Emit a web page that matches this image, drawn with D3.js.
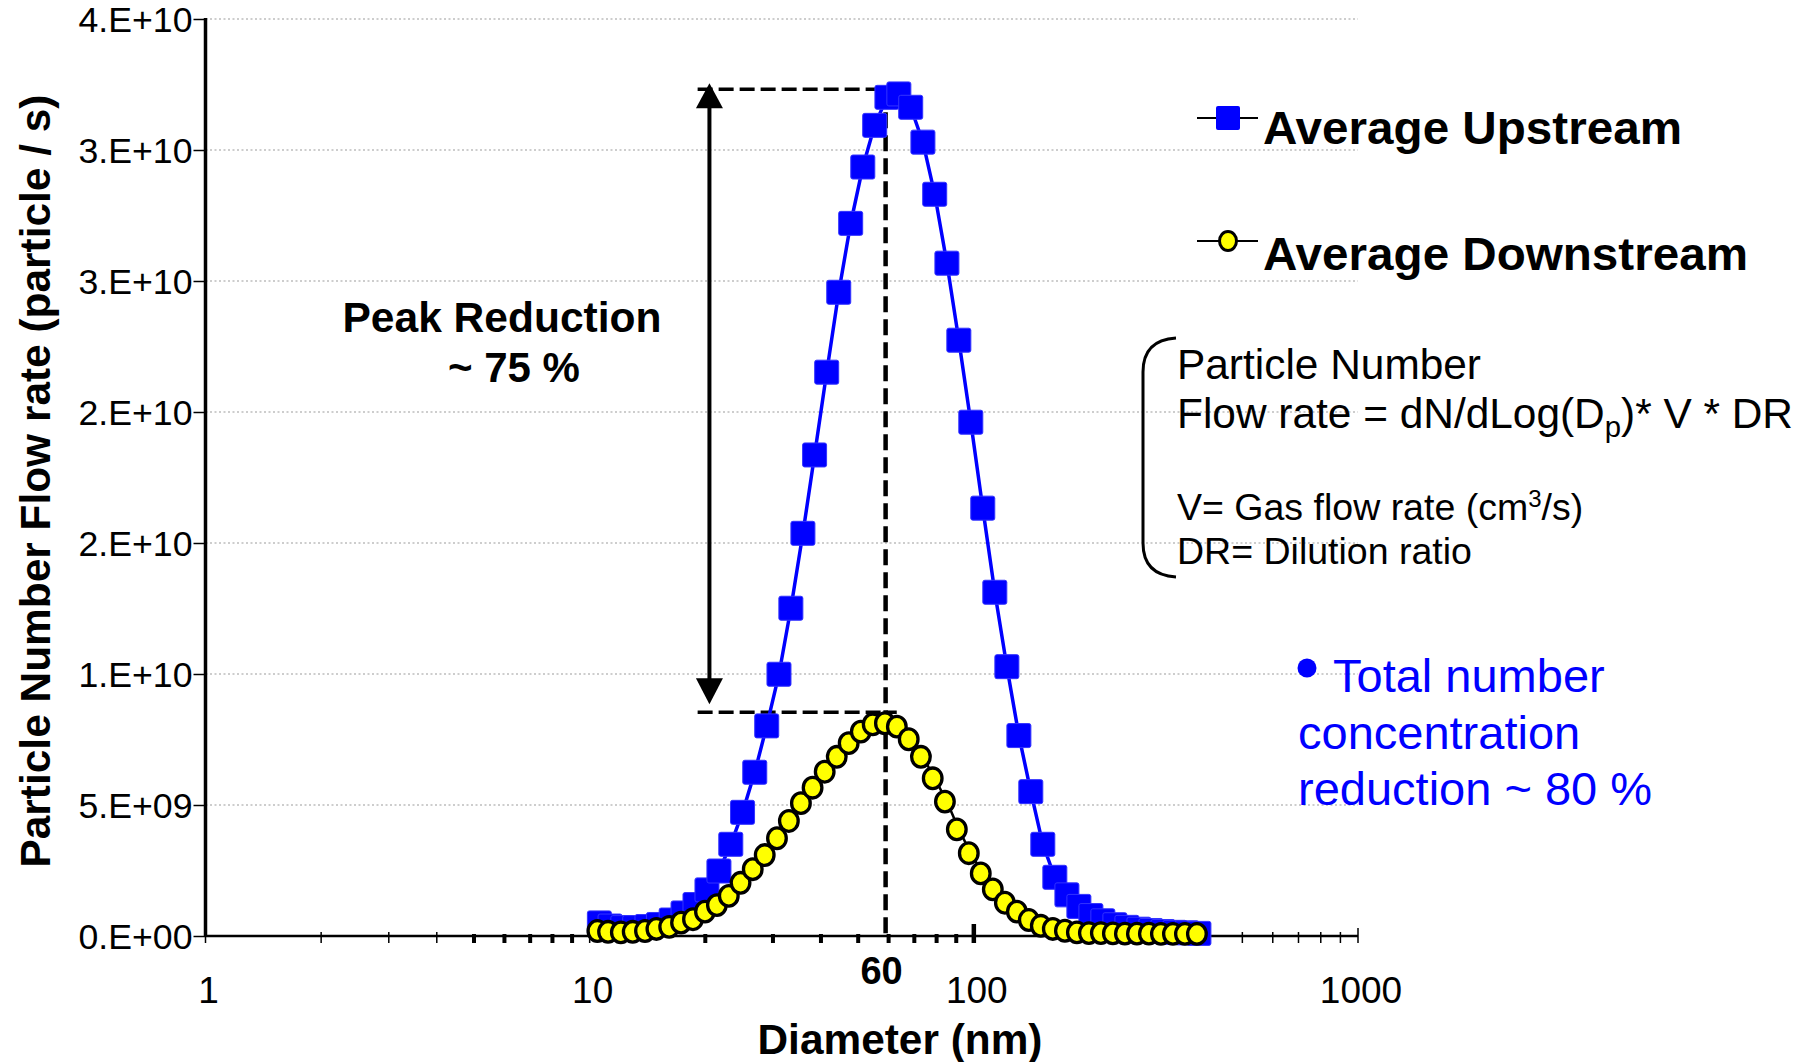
<!DOCTYPE html>
<html>
<head>
<meta charset="utf-8">
<script src="https://cdn.jsdelivr.net/npm/d3@7"></script>
<style>
  body { margin: 0; background: white; }
  text { font-family: "Liberation Sans", Arial, sans-serif; }
</style>
</head>
<body>
<svg id="chart"></svg>
<script>
// SMPS channels (nm), every other 64/decade channel
var diameters = [10.6, 11.3, 12.2, 13.1, 14.1, 15.1, 16.3, 17.5, 18.8, 20.2,
    21.7, 23.3, 25.0, 26.9, 28.9, 31.1, 33.4, 35.9, 38.5, 41.4,
    44.5, 47.8, 51.4, 55.2, 59.4, 63.8, 68.5, 73.7, 79.1, 85.1,
    91.4, 98.2, 105.5, 113.4, 121.9, 131.0, 140.7, 151.2, 162.5, 174.7,
    187.7, 201.7, 216.7, 232.9, 250.3, 269.0, 289.0, 310.6, 333.8, 358.7, 385.4];

var upstream = [0.50e9, 0.38e9, 0.32e9, 0.32e9, 0.36e9, 0.44e9, 0.61e9, 0.88e9, 1.20e9, 1.76e9,
    2.48e9, 3.50e9, 4.72e9, 6.25e9, 8.02e9, 9.99e9, 12.51e9, 15.37e9, 18.36e9, 21.52e9,
    24.57e9, 27.20e9, 29.35e9, 30.94e9, 32.01e9, 32.14e9, 31.63e9, 30.30e9, 28.31e9, 25.68e9,
    22.74e9, 19.61e9, 16.33e9, 13.12e9, 10.28e9, 7.65e9, 5.51e9, 3.50e9, 2.24e9, 1.57e9,
    1.13e9, 0.78e9, 0.58e9, 0.43e9, 0.33e9, 0.26e9, 0.21e9, 0.17e9, 0.14e9, 0.12e9, 0.10e9];

var downstream = [0.19e9, 0.16e9, 0.14e9, 0.16e9, 0.19e9, 0.27e9, 0.35e9, 0.51e9, 0.64e9, 0.93e9,
    1.18e9, 1.53e9, 2.03e9, 2.55e9, 3.09e9, 3.73e9, 4.39e9, 5.07e9, 5.66e9, 6.27e9,
    6.84e9, 7.36e9, 7.80e9, 8.08e9, 8.12e9, 7.99e9, 7.51e9, 6.84e9, 6.02e9, 5.13e9,
    4.07e9, 3.16e9, 2.39e9, 1.78e9, 1.27e9, 0.93e9, 0.61e9, 0.39e9, 0.27e9, 0.20e9,
    0.14e9, 0.11e9, 0.11e9, 0.10e9, 0.09e9, 0.09e9, 0.09e9, 0.08e9, 0.08e9, 0.08e9, 0.08e9];

var yTickValues = [0, 5e9, 10e9, 15e9, 20e9, 25e9, 30e9, 35e9];
var yTickLabels = ["0.E+00", "5.E+09", "1.E+10", "2.E+10", "2.E+10", "3.E+10", "3.E+10", "4.E+10"];
var xMajorTicks = [1, 10, 100, 1000];
var xMajorLabels = ["1", "10", "100", "1000"];
var xThinTicks = [2, 3, 4, 200, 300, 400, 500, 600, 700, 800, 900];
var xThickTicks = [5, 6, 7, 8, 9, 20, 30, 40, 50, 60, 70, 80, 90];

// annotation values
var peakUpLevel = 32.32e9, peakDownLevel = 8.54e9;
var markDiameter = 60, arrowDiameter = 20.5, dashStartDiameter = 19.1;
var topDashEnd = 64.4, bottomDashEnd = 63;

var width = 1811, height = 1062;
var svg = d3.select('#chart').attr('width', width).attr('height', height);

svg.append('rect').attr('width', width).attr('height', height).style('fill', 'white');

var x = d3.scaleLog().domain([1, 1000]).range([205.5, 1358]);
var y = d3.scaleLinear().domain([0, 35e9]).range([936, 19]);

// dotted gridlines
svg.append('g')
    .selectAll('line')
    .data(yTickValues.slice(1))
    .enter().append('line')
    .attr('x1', x(1)).attr('x2', x(1000))
    .attr('y1', function(d) { return y(d); })
    .attr('y2', function(d) { return y(d); })
    .attr('stroke', '#bdbdbd')
    .attr('stroke-width', 1.5)
    .attr('stroke-dasharray', '2,2.5');

// y axis
var yAxis = d3.axisLeft(y)
    .tickValues(yTickValues)
    .tickSize(12)
    .tickPadding(1)
    .tickFormat(function(d, i) { return yTickLabels[i]; });

var gy = svg.append('g')
    .attr('transform', 'translate(' + x(1) + ',0)')
    .call(yAxis);
gy.select('.domain').remove();
gy.selectAll('.tick line').attr('stroke', 'black').attr('stroke-width', 1.5);
gy.selectAll('.tick text')
    .attr('fill', 'black')
    .style('font-size', '35px')
    .attr('textLength', 114)
    .attr('lengthAdjust', 'spacingAndGlyphs')
    .attr('dy', '0.36em');

svg.append('line')
    .attr('x1', x(1)).attr('x2', x(1))
    .attr('y1', y(35e9) - 1).attr('y2', y(0) + 1)
    .attr('stroke', 'black').attr('stroke-width', 3.5);

// x axis
var gx = svg.append('g');
gx.append('line')
    .attr('x1', x(1)).attr('x2', x(1000))
    .attr('y1', y(0)).attr('y2', y(0))
    .attr('stroke', 'black').attr('stroke-width', 2.5);

gx.selectAll('.thin')
    .data(xThinTicks)
    .enter().append('line')
    .attr('x1', function(d) { return x(d); })
    .attr('x2', function(d) { return x(d); })
    .attr('y1', y(0) - 4).attr('y2', y(0) + 7)
    .attr('stroke', 'black').attr('stroke-width', 1.5);

gx.selectAll('.thick')
    .data(xThickTicks)
    .enter().append('line')
    .attr('x1', function(d) { return x(d); })
    .attr('x2', function(d) { return x(d); })
    .attr('y1', y(0) - 2).attr('y2', y(0) + 7)
    .attr('stroke', 'black').attr('stroke-width', 4);

gx.selectAll('.major')
    .data(xMajorTicks)
    .enter().append('line')
    .attr('x1', function(d) { return x(d); })
    .attr('x2', function(d) { return x(d); })
    .attr('y1', function(d) { return d == 100 ? y(0) - 12 : y(0) - 8; })
    .attr('y2', y(0) + 7)
    .attr('stroke', 'black')
    .attr('stroke-width', function(d) { return d == 100 ? 4.5 : 1.5; });

gx.selectAll('.label')
    .data(xMajorTicks)
    .enter().append('text')
    .attr('x', function(d) { return x(d) + 3; })
    .attr('y', 1003)
    .attr('text-anchor', 'middle')
    .style('font-size', '37px')
    .text(function(d, i) { return xMajorLabels[i]; });

svg.append('text')
    .attr('x', x(markDiameter) - 7)
    .attr('y', 984)
    .attr('text-anchor', 'middle')
    .style('font-size', '38px')
    .style('font-weight', 'bold')
    .text('60');

// axis titles
svg.append('text')
    .attr('x', 900)
    .attr('y', 1054)
    .attr('text-anchor', 'middle')
    .attr('textLength', 285)
    .attr('lengthAdjust', 'spacingAndGlyphs')
    .style('font-size', '42px')
    .style('font-weight', 'bold')
    .text('Diameter (nm)');

svg.append('text')
    .attr('transform', 'translate(50,481) rotate(-90)')
    .attr('text-anchor', 'middle')
    .attr('textLength', 773)
    .attr('lengthAdjust', 'spacingAndGlyphs')
    .style('font-size', '43px')
    .style('font-weight', 'bold')
    .text('Particle Number Flow rate (particle / s)');

// peak annotation
var ann = svg.append('g');
ann.append('line')
    .attr('x1', x(dashStartDiameter)).attr('x2', x(topDashEnd))
    .attr('y1', y(peakUpLevel)).attr('y2', y(peakUpLevel))
    .attr('stroke', 'black').attr('stroke-width', 3.5)
    .attr('stroke-dasharray', '15,6');
ann.append('line')
    .attr('x1', x(dashStartDiameter)).attr('x2', x(bottomDashEnd))
    .attr('y1', y(peakDownLevel)).attr('y2', y(peakDownLevel))
    .attr('stroke', 'black').attr('stroke-width', 3.5)
    .attr('stroke-dasharray', '15,6');
ann.append('line')
    .attr('x1', x(markDiameter) - 3).attr('x2', x(markDiameter) - 3)
    .attr('y1', y(peakUpLevel)).attr('y2', y(0))
    .attr('stroke', 'black').attr('stroke-width', 4.5)
    .attr('stroke-dasharray', '16,7');

var ax = x(arrowDiameter);
var yTop = y(peakUpLevel) - 6, yBot = y(peakDownLevel) - 8;
ann.append('line')
    .attr('x1', ax).attr('x2', ax)
    .attr('y1', yTop + 20).attr('y2', yBot - 20)
    .attr('stroke', 'black').attr('stroke-width', 4);
ann.append('path')
    .attr('d', 'M' + ax + ',' + yTop + 'L' + (ax - 13.5) + ',' + (yTop + 25) + 'L' + (ax + 13.5) + ',' + (yTop + 25) + 'Z')
    .attr('fill', 'black');
ann.append('path')
    .attr('d', 'M' + ax + ',' + yBot + 'L' + (ax - 13.5) + ',' + (yBot - 26) + 'L' + (ax + 13.5) + ',' + (yBot - 26) + 'Z')
    .attr('fill', 'black');

ann.append('text')
    .attr('x', 502).attr('y', 332)
    .attr('text-anchor', 'middle')
    .attr('textLength', 319)
    .attr('lengthAdjust', 'spacingAndGlyphs')
    .style('font-size', '42px').style('font-weight', 'bold')
    .text('Peak Reduction');
ann.append('text')
    .attr('x', 514).attr('y', 382)
    .attr('text-anchor', 'middle')
    .style('font-size', '42px').style('font-weight', 'bold')
    .text('~ 75 %');

// series
var upData = diameters.map(function(d, i) { return { d: d, v: upstream[i] }; });
var downData = diameters.map(function(d, i) { return { d: d, v: downstream[i] }; });

var line = d3.line()
    .x(function(p) { return x(p.d); })
    .y(function(p) { return y(p.v); });

svg.append('path')
    .datum(upData)
    .attr('d', line)
    .attr('fill', 'none')
    .attr('stroke', '#0000ff')
    .attr('stroke-width', 3.5);

svg.append('g')
    .selectAll('rect')
    .data(upData)
    .enter().append('rect')
    .attr('x', function(p) { return x(p.d) - 12; })
    .attr('y', function(p) { return y(p.v) - 12; })
    .attr('width', 24).attr('height', 24)
    .attr('rx', 2)
    .attr('fill', '#0000ff')
    .attr('stroke', '#3333ff').attr('stroke-width', 1);

svg.append('path')
    .datum(downData)
    .attr('d', line)
    .attr('fill', 'none')
    .attr('stroke', 'black')
    .attr('stroke-width', 2.5);

svg.append('g')
    .selectAll('ellipse')
    .data(downData)
    .enter().append('ellipse')
    .attr('cx', function(p) { return x(p.d) - 2; })
    .attr('cy', function(p) { return y(p.v); })
    .attr('rx', 9.3).attr('ry', 10.3)
    .attr('fill', '#ffff00')
    .attr('stroke', 'black').attr('stroke-width', 3.3);

// legend
var legend = svg.append('g');
legend.append('line')
    .attr('x1', 1197).attr('x2', 1258).attr('y1', 118).attr('y2', 118)
    .attr('stroke', 'black').attr('stroke-width', 2);
legend.append('rect')
    .attr('x', 1216).attr('y', 106).attr('width', 24).attr('height', 24).attr('rx', 2)
    .attr('fill', '#0000ff');
legend.append('text')
    .attr('x', 1263).attr('y', 144)
    .attr('textLength', 419)
    .attr('lengthAdjust', 'spacingAndGlyphs')
    .style('font-size', '47px').style('font-weight', 'bold')
    .text('Average Upstream');

legend.append('line')
    .attr('x1', 1197).attr('x2', 1258).attr('y1', 241).attr('y2', 241)
    .attr('stroke', 'black').attr('stroke-width', 2);
legend.append('ellipse')
    .attr('cx', 1228).attr('cy', 241).attr('rx', 8.5).attr('ry', 9.5)
    .attr('fill', '#ffff00').attr('stroke', 'black').attr('stroke-width', 3);
legend.append('text')
    .attr('x', 1263).attr('y', 270)
    .attr('textLength', 485)
    .attr('lengthAdjust', 'spacingAndGlyphs')
    .style('font-size', '47px').style('font-weight', 'bold')
    .text('Average Downstream');

// formula box
var box = svg.append('g');
box.append('path')
    .attr('d', 'M1176,338 Q1143,340 1143,372 L1143,543 Q1143,575 1176,577')
    .attr('fill', 'none').attr('stroke', 'black').attr('stroke-width', 3);
box.append('text')
    .attr('x', 1177).attr('y', 379)
    .attr('textLength', 304)
    .attr('lengthAdjust', 'spacingAndGlyphs')
    .style('font-size', '42px')
    .text('Particle Number');
var f = box.append('text')
    .attr('x', 1177).attr('y', 428)
    .attr('textLength', 616)
    .attr('lengthAdjust', 'spacingAndGlyphs')
    .style('font-size', '42px');
f.append('tspan').text('Flow rate = dN/dLog(D');
f.append('tspan').attr('dy', 9).style('font-size', '29px').text('p');
f.append('tspan').attr('dy', -9).text(')* V * DR');
var v = box.append('text')
    .attr('x', 1177).attr('y', 520)
    .style('font-size', '37.5px');
v.append('tspan').text('V= Gas flow rate (cm');
v.append('tspan').attr('dy', -13).style('font-size', '24px').text('3');
v.append('tspan').attr('dy', 13).text('/s)');
box.append('text')
    .attr('x', 1177).attr('y', 564)
    .style('font-size', '37.5px')
    .text('DR= Dilution ratio');

// total number note
var note = svg.append('g').attr('fill', '#0000ff');
note.append('circle').attr('cx', 1307).attr('cy', 668).attr('r', 9.5);
var noteLines = ['Total number', 'concentration', 'reduction ~ 80 %'];
note.selectAll('text')
    .data(noteLines)
    .enter().append('text')
    .attr('x', function(d, i) { return i == 0 ? 1333 : 1298; })
    .attr('y', function(d, i) { return 692 + i * 56.5; })
    .style('font-size', '47px')
    .text(function(d) { return d; });
</script>
</body>
</html>
